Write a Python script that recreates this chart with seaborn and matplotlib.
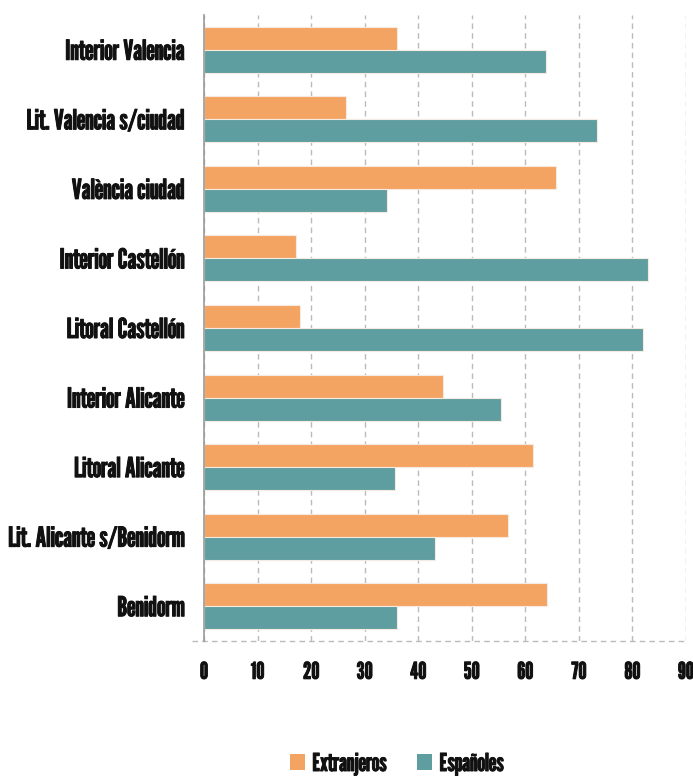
import numpy as np
import pandas as pd
import matplotlib.pyplot as plt
import seaborn as sns
from matplotlib import font_manager
from matplotlib import patheffects
from matplotlib.font_manager import FontProperties
from matplotlib.textpath import TextPath
from matplotlib.patches import Patch

# Data (%)
regions = ['Interior Valencia', 'Lit. Valencia s/ciudad', 'València ciudad',
           'Interior Castellón', 'Litoral Castellón', 'Interior Alicante',
           'Litoral Alicante', 'Lit. Alicante s/Benidorm', 'Benidorm']
extranjeros = [36.1, 26.6, 65.8, 17.1, 18.0, 44.6, 61.4, 56.8, 64.0]
espanoles = [63.8, 73.4, 34.1, 82.9, 82.0, 55.4, 35.6, 43.2, 36.0]
series = ['Extranjeros', 'Españoles']
x_ticks = [0, 10, 20, 30, 40, 50, 60, 70, 80, 90]

df = pd.DataFrame({'region': regions, 'Extranjeros': extranjeros, 'Españoles': espanoles})
long_df = df.melt(id_vars='region', var_name='grupo', value_name='pct')

sns.set_style('white')
installed = {f.name for f in font_manager.fontManager.ttflist}
wanted = ['League Gothic', 'Antonio', 'Sofia Sans Extra Condensed', 'Pathway Gothic One',
          'Oswald', 'Fjalla One', 'DejaVu Sans']
main_font = next(f for f in wanted if f in installed)
plt.rcParams['font.family'] = [main_font, 'DejaVu Sans']
fp = FontProperties(family=[main_font, 'DejaVu Sans'], weight='bold')


def size_for(text, width_px):
    # font size (pt) that makes text about width_px wide at dpi 100
    w = TextPath((0, 0), text, size=10, prop=fp).get_extents().width * 100 / 72
    return 10 * width_px / w


ylab_size = size_for('Lit. Alicante s/Benidorm', 175)
xlab_size = size_for('10', 12.5)
leg_size = size_for('Extranjeros', 73)

# thicken the strokes a little, the original lettering is heavier
heavy = [patheffects.withStroke(linewidth=0.7, foreground='#111111')]

colors = {'Extranjeros': '#F4A462', 'Españoles': '#5F9EA0'}

fig = plt.figure(figsize=(6.93, 7.76), dpi=100)
ax = fig.add_axes([204 / 693, 1 - 641 / 776, (686 - 204) / 693, (641 - 15) / 776])

sns.barplot(data=long_df, y='region', x='pct', hue='grupo', order=regions,
            hue_order=series, palette=colors, saturation=1, width=0.66, orient='h',
            edgecolor='#f6e9df', linewidth=0.8, legend=False, ax=ax)

ax.set_xlim(0, 90)
ax.set_ylim(len(regions) - 0.5, -0.5)
ax.set_xticks(x_ticks)
ax.set_xticklabels([str(t) for t in x_ticks], fontsize=xlab_size, fontweight='bold')
ax.set_yticks(range(len(regions)))
ax.set_yticklabels(regions, fontsize=ylab_size, fontweight='bold')
ax.set_yticks(np.arange(-0.5, len(regions), 1), minor=True)
ax.tick_params(axis='y', which='major', length=0, pad=14, labelcolor='#111111')
ax.tick_params(axis='y', which='minor', length=9, width=1.2, color='#999999')
ax.tick_params(axis='x', length=4, color='#bbbbbb', pad=11, labelcolor='#111111')
ax.set_xlabel('')
ax.set_ylabel('')
for lab in ax.get_xticklabels() + ax.get_yticklabels():
    lab.set_path_effects(heavy)

ax.grid(axis='x', color='#bbbbbb', linestyle=(0, (4, 3)), linewidth=1)
ax.set_axisbelow(True)
for s in ['top', 'right', 'bottom']:
    ax.spines[s].set_visible(False)
ax.spines['left'].set_color('#999999')
ax.spines['left'].set_linewidth(1.2)
ax.plot([-0.025, 1], [0, 0], transform=ax.transAxes, clip_on=False,
        color='#bbbbbb', linestyle=(0, (4, 3)), linewidth=1)

em = leg_size * 100 / 72
handles = [Patch(facecolor=colors[s], edgecolor='none', label=s) for s in series]
leg = fig.legend(handles=handles, loc='center', bbox_to_anchor=(397 / 693, 1 - 764 / 776),
                 ncol=2, frameon=False,
                 prop={'family': [main_font, 'DejaVu Sans'], 'weight': 'bold', 'size': leg_size},
                 handlelength=15 / em, handleheight=15 / em, columnspacing=31 / em,
                 handletextpad=7 / em, labelcolor='#111111')
for t in leg.get_texts():
    t.set_path_effects(heavy)

fig.savefig('out.png', dpi=100)
